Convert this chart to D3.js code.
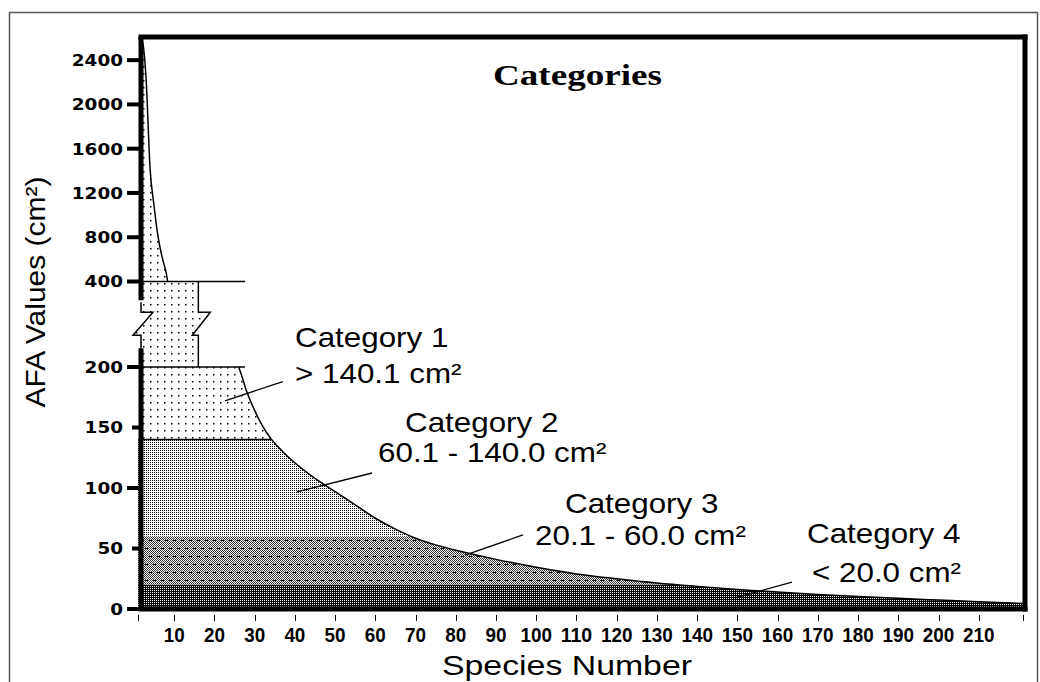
<!DOCTYPE html>
<html><head><meta charset="utf-8">
<script src="https://cdn.jsdelivr.net/npm/d3@7"></script>
<style>body{margin:0;background:#fff}</style>
</head><body>
<svg id="chart" width="1040" height="682" xmlns="http://www.w3.org/2000/svg"></svg>
<script>
// ---------- data ----------
const species = [1,2,3,4,5,6,7,8,9,26,28,30,32,34,37,41,45,50,55,60,65,70,75,80,90,100,110,120,130,140,150,160,170,180,190,200,210,221];
const afa     = [2600,2580,2240,1420,1080,800,620,480,370,200,180,164,151,141,130,118,108,97,86,75,66,58.5,53,48.5,41,34.5,29,25,21.5,18.7,16.2,14,12,10.3,8.8,7.4,6,4.5];
const lowerTicks = [0,50,100,150,200];
const majorLowerTicks = [0,100,200];
const upperTicks = [400,800,1200,1600,2000,2400];
const xTickValues = [1,10,20,30,40,50,60,70,80,90,100,110,120,130,140,150,160,170,180,190,200,210,221];
const xTickLabels = ["","10","20","30","40","50","60","70","80","90","100","110","120","130","140","150","160","170","180","190","200","210",""];
const categoryNames  = ["Category 1","Category 2","Category 3","Category 4"];
const categoryRanges = ["> 140.1 cm²","60.1 - 140.0 cm²","20.1 - 60.0 cm²","< 20.0 cm²"];
const bandLow  = [140,60,20,0];
const bandHigh = [200,140,60,20];
const breakColumnEnd = 16;     // species where the broken column ends
const breakLineEnd = 27.6;     // species where the 200 / 400 lines end
const leaderFrom = [[37,188],[59.2,112.4],[96.7,61.2],[163.6,22.3]];
const leaderTo   = [[22.6,172],[40.5,96.7],[82.3,44.6],[149.4,9.1]];

// ---------- layout ----------
const svg = d3.select("#chart");
const x = d3.scaleLinear().domain([1,221]).range([138,1023]);
const y = d3.scaleLinear().domain([0,200,400,2600]).range([609,367,281.5,38]);
const pts = species.map((s,i)=>({s, v:afa[i]}));
const defs = svg.append("defs");

svg.append("rect").attr("width",1040).attr("height",682).attr("fill","#fff");
// outer thin frame
svg.append("rect").attr("x",9.5).attr("y",12.5).attr("width",1028).attr("height",700)
  .attr("fill","none").attr("stroke","#555").attr("stroke-width",1.5);

// ---------- patterns ----------
function pattern(id,w,h,bg,fg,cells){
  const p = defs.append("pattern").attr("id",id).attr("patternUnits","userSpaceOnUse")
    .attr("x",0).attr("y",0).attr("width",w).attr("height",h);
  p.append("rect").attr("width",w).attr("height",h).attr("fill",bg);
  cells.forEach(c=>p.append("rect").attr("x",c[0]).attr("y",c[1]).attr("width",c[2]||1).attr("height",c[3]||1).attr("fill",c[4]||fg));
}
pattern("p1",7,7,"#fff","#000",[[3,3,1.5,1.5]]);
pattern("p2",2,2,"#fff","#000",[[0,0]]);
(function(){
  const cells=[];
  for(let i=0;i<8;i++) for(let j=0;j<16;j++) if((i+j)%2===0) cells.push([i,j,1,1,"#3a3a3a"]);
  [[2,4],[6,12]].forEach(([cx,cy])=>{
    cells.push([cx,cy,1,1,"#000"]);cells.push([cx-1,cy,1,1,"#000"]);cells.push([cx+1,cy,1,1,"#000"]);
  });
  pattern("p3",8,16,"#fff","#000",cells);
})();
pattern("p4",2,2,"#000","#fff",[[0,0]]);
const bandFill = ["url(#p1)","url(#p2)","url(#p3)","url(#p4)"];

// ---------- clip paths ----------
const area = d3.area().curve(d3.curveMonotoneX).x(d=>x(d.s)).y0(y(0)).y1(d=>y(d.v));
const line = d3.line().curve(d3.curveMonotoneX).x(d=>x(d.s)).y(d=>y(d.v));
const xr0 = x(1), xr1 = x(221);
defs.append("clipPath").attr("id","cUpper").append("rect")
  .attr("x",xr0).attr("y",y(2600)).attr("width",xr1-xr0).attr("height",y(400)-y(2600));
defs.append("clipPath").attr("id","cLower").append("rect")
  .attr("x",xr0).attr("y",y(200)).attr("width",xr1-xr0).attr("height",y(0)-y(200));
bandLow.forEach((lo,i)=>{
  defs.append("clipPath").attr("id","cb"+i).append("rect")
    .attr("x",xr0).attr("y",y(bandHigh[i])).attr("width",xr1-xr0).attr("height",y(lo)-y(bandHigh[i]));
});
defs.append("clipPath").attr("id","cArea").append("path").attr("d",area(pts));

// ---------- fills ----------
svg.append("path").attr("d",area(pts)).attr("fill","url(#p1)").attr("clip-path","url(#cUpper)");
bandLow.forEach((lo,i)=>{
  svg.append("path").attr("d",area(pts)).attr("fill",bandFill[i]).attr("clip-path","url(#cb"+i+")");
});
// boundary line at 140
svg.append("line").attr("x1",xr0).attr("x2",xr1).attr("y1",y(140)).attr("y2",y(140))
  .attr("stroke","#000").attr("stroke-width",1.5).attr("clip-path","url(#cArea)");

// broken column between 200 and 400
const yT = y(400), yB = y(200), mid = (yT+yB)/2;
const xa = 141, xc = x(breakColumnEnd);
const colPath = `M${xa},${yT}H${xc}V${mid-12}H${xc+12}L${xc-6},${mid+11}H${xc}V${yB}H${xa}V${mid+11}H${xa-8}L${xa+12},${mid-12}H${xa}Z`;
svg.append("path").attr("d",colPath).attr("fill","url(#p1)");
svg.append("path").attr("d",`M${xc},${yT}V${mid-12}H${xc+12}L${xc-6},${mid+11}H${xc}V${yB}`)
  .attr("fill","none").attr("stroke","#000").attr("stroke-width",1.5);
svg.append("path").attr("d",`M${xa},${mid-22}V${mid-12}H${xa+12}L${xa-8},${mid+11}H${xa}V${mid+24}`)
  .attr("fill","none").attr("stroke","#000").attr("stroke-width",1.5);
[200,400].forEach(v=>{
  svg.append("line").attr("x1",xr0).attr("x2",x(breakLineEnd)).attr("y1",y(v)).attr("y2",y(v))
    .attr("stroke","#000").attr("stroke-width",1.5);
});

// curve
["cUpper","cLower"].forEach(c=>{
  svg.append("path").attr("d",line(pts)).attr("fill","none").attr("stroke","#000")
    .attr("stroke-width",1.5).attr("clip-path",`url(#${c})`);
});

// ---------- frame ----------
const fr = svg.append("g").attr("stroke","#000").attr("stroke-width",5).attr("stroke-linecap","square");
fr.append("line").attr("x1",141).attr("x2",1025).attr("y1",37).attr("y2",37);
fr.append("line").attr("x1",1025).attr("x2",1025).attr("y1",37).attr("y2",609);
fr.append("line").attr("x1",141).attr("x2",1025).attr("y1",609).attr("y2",609);
fr.append("line").attr("x1",141).attr("x2",141).attr("y1",37).attr("y2",mid-24).attr("stroke-linecap","butt");
fr.append("line").attr("x1",141).attr("x2",141).attr("y1",mid+24).attr("y2",609).attr("stroke-linecap","butt");

// ---------- y axis ----------
const yTicks = lowerTicks.concat(upperTicks);
const yg = svg.append("g");
yTicks.forEach(v=>{
  const long = upperTicks.includes(v) || majorLowerTicks.includes(v);
  yg.append("line").attr("x1",long?127:132).attr("x2",140).attr("y1",y(v)).attr("y2",y(v))
    .attr("stroke","#000").attr("stroke-width",4);
  yg.append("text").attr("x",123).attr("y",y(v)).attr("dy","0.37em")
    .attr("text-anchor","end").attr("font-family","DejaVu Sans").attr("font-weight","bold")
    .attr("font-size",16).attr("textLength",String(v).length*12.8).attr("lengthAdjust","spacingAndGlyphs")
    .text(v);
});

// ---------- x axis ----------
const xg = svg.append("g");
xTickValues.forEach((v,i)=>{
  xg.append("line").attr("x1",Math.round(x(v))+0.5).attr("x2",Math.round(x(v))+0.5)
    .attr("y1",615).attr("y2",621).attr("stroke","#000").attr("stroke-width",1);
  if(xTickLabels[i]){
    xg.append("text").attr("x",x(v)).attr("y",641.5).attr("text-anchor","middle")
      .attr("font-family","Liberation Sans").attr("font-weight","bold").attr("font-size",20)
      .attr("textLength",xTickLabels[i].length*10.5).attr("lengthAdjust","spacingAndGlyphs")
      .text(xTickLabels[i]);
  }
});

// ---------- titles ----------
svg.append("text").attr("x",493).attr("y",85).attr("font-family","Liberation Serif")
  .attr("font-weight","bold").attr("font-size",30).attr("textLength",169)
  .attr("lengthAdjust","spacingAndGlyphs").text("Categories");
svg.append("text").attr("transform","translate(45,292) rotate(-90)").attr("text-anchor","middle")
  .attr("font-family","Liberation Sans").attr("font-size",28).attr("textLength",231)
  .attr("lengthAdjust","spacingAndGlyphs").text("AFA Values (cm²)");
svg.append("text").attr("x",442).attr("y",675).attr("font-family","Liberation Sans")
  .attr("font-size",28).attr("textLength",250).attr("lengthAdjust","spacingAndGlyphs")
  .text("Species Number");

// ---------- category labels ----------
const labelPos = [[295,347,295,383],[405,432,378,462],[565,513,535,545],[807,543,812,582]];
categoryNames.forEach((n,i)=>{
  const p = labelPos[i];
  [[n,p[0],p[1]],[categoryRanges[i],p[2],p[3]]].forEach(([txt,tx,ty])=>{
    const t = svg.append("text").attr("x",tx).attr("y",ty).attr("font-family","Liberation Sans")
      .attr("font-size",28).text(txt);
    const w = t.node().getComputedTextLength();
    t.attr("textLength",w*1.12).attr("lengthAdjust","spacingAndGlyphs");
  });
  svg.append("line").attr("x1",x(leaderFrom[i][0])).attr("y1",y(leaderFrom[i][1]))
    .attr("x2",x(leaderTo[i][0])).attr("y2",y(leaderTo[i][1]))
    .attr("stroke","#000").attr("stroke-width",1.3);
});
</script>
</body></html>
